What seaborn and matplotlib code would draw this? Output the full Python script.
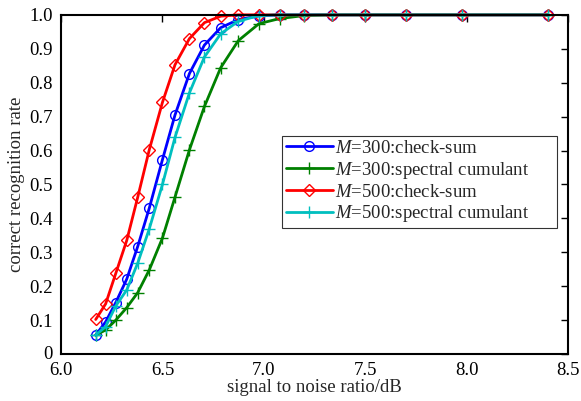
import matplotlib
matplotlib.use("Agg")
import matplotlib.pyplot as plt
import matplotlib.transforms as mtransforms
import seaborn as sns
import pandas as pd

snr = [6.171, 6.220, 6.270, 6.324, 6.378, 6.435, 6.50, 6.562, 6.633, 6.707,
       6.787, 6.874, 6.976, 7.078, 7.20, 7.338, 7.50, 7.70, 7.976, 8.40]
m300_checksum = [0.056, 0.095, 0.152, 0.221, 0.317, 0.430, 0.573, 0.705, 0.827, 0.911,
                 0.962, 0.986, 0.997, 1.0, 1.0, 1.0, 1.0, 1.0, 1.0, 1.0]
m300_spectral = [0.056, 0.071, 0.100, 0.137, 0.181, 0.248, 0.342, 0.463, 0.602, 0.730,
                 0.844, 0.924, 0.974, 0.989, 0.998, 1.0, 1.0, 1.0, 1.0, 1.0]
m500_checksum = [0.102, 0.148, 0.238, 0.335, 0.462, 0.602, 0.742, 0.853, 0.930, 0.977,
                 0.996, 1.0, 1.0, 1.0, 1.0, 1.0, 1.0, 1.0, 1.0, 1.0]
m500_spectral = [0.056, 0.081, 0.142, 0.189, 0.268, 0.369, 0.500, 0.639, 0.770, 0.876,
                 0.944, 0.981, 0.998, 1.0, 1.0, 1.0, 1.0, 1.0, 1.0, 1.0]
labels = ["$M$=300:check-sum", "$M$=300:spectral cumulant",
          "$M$=500:check-sum", "$M$=500:spectral cumulant"]
x_ticks = [6.0, 6.5, 7.0, 7.5, 8.0, 8.5]
y_ticks = [0, 0.1, 0.2, 0.3, 0.4, 0.5, 0.6, 0.7, 0.8, 0.9, 1.0]
y_ticklabels = ["0", "0.1", "0.2", "0.3", "0.4", "0.5", "0.6", "0.7", "0.8", "0.9", "1.0"]

df = pd.DataFrame({"snr": snr, "s1": m300_checksum, "s2": m300_spectral,
                   "s3": m500_checksum, "s4": m500_spectral})

sns.set_style("white")
plt.rcParams["font.family"] = ["Liberation Serif", "DejaVu Serif"]
plt.rcParams["mathtext.fontset"] = "custom"
plt.rcParams["mathtext.it"] = "Liberation Serif:italic"
plt.rcParams["mathtext.rm"] = "Liberation Serif"

FS = 13.5

fig = plt.figure(figsize=(5.81, 4.01), dpi=100)
ax = fig.add_axes([0.105, 0.117, 0.873, 0.846])

styles = [("s1", "#0000ff", "o", 7), ("s2", "#008000", "+", 8),
          ("s3", "#ff0000", "D", 6), ("s4", "#00bfbf", "+", 8)]
for (col, color, mk, ms), lab in zip(styles, labels):
    sns.lineplot(data=df, x="snr", y=col, ax=ax, color=color, linewidth=2.0,
                 marker=mk, markersize=ms, markerfacecolor="none",
                 markeredgecolor=color, markeredgewidth=1.0,
                 label=lab, clip_on=False)

ax.set_xlim(6.0, 8.5)
ax.set_ylim(0, 1.0)
ax.set_xticks(x_ticks)
ax.set_xticklabels([f"{v:.1f}" for v in x_ticks])
ax.set_yticks(y_ticks)
ax.set_yticklabels(y_ticklabels)
ax.set_xlabel("signal to noise ratio/dB", fontsize=FS, labelpad=0)
ax.set_ylabel("correct recognition rate", fontsize=FS, labelpad=3)
ax.tick_params(direction="in", length=5, width=1, top=True, right=True,
               labelsize=FS, colors="black")
ax.tick_params(axis="x", pad=5.5)
ax.tick_params(axis="y", pad=6)
for s in ax.spines.values():
    s.set_visible(True)
    s.set_color("black")
    s.set_linewidth(1.5)

# nudge the "0" y tick label up slightly
zero_lab = ax.get_yticklabels()[0]
zero_lab.set_transform(zero_lab.get_transform() +
                       mtransforms.ScaledTranslation(0, 2 / 100, fig.dpi_scale_trans))

leg = ax.legend(loc="upper left", bbox_to_anchor=(0.436, 0.643, 0.542, 0.0),
                mode="expand", fontsize=FS,
                frameon=True, fancybox=False, edgecolor="black",
                handlelength=2.5, labelspacing=0.15, borderpad=0.2,
                handletextpad=0.1, borderaxespad=0)
leg.get_frame().set_linewidth(0.8)

fig.savefig("out.png", dpi=100)
